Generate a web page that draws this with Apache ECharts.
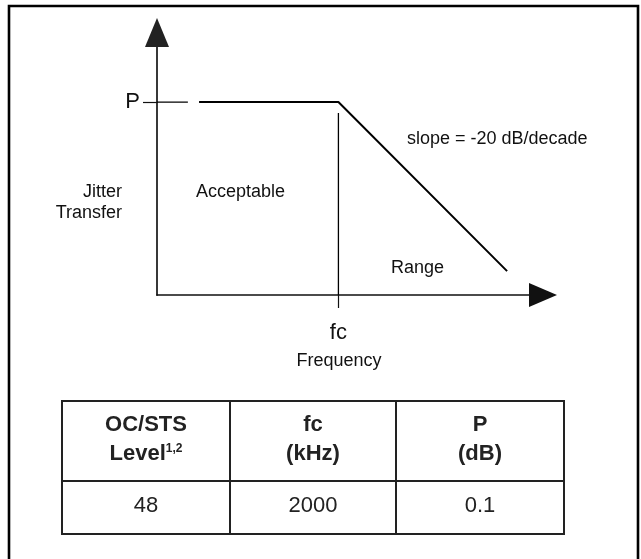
<!DOCTYPE html>
<html><head><meta charset="utf-8">
<script src="https://cdn.jsdelivr.net/npm/echarts@6/dist/echarts.min.js"></script>
<style>html,body{margin:0;padding:0;background:#fff}#c{width:641px;height:559px}</style>
</head><body><div id="c"></div>
<script>
// ---- data (arbitrary linear units 0..100) ----
const curveX = [10.9, 47.0, 90.7];        // start of plateau, corner fc, end of -20 dB/decade slope
const curveY = [73.5, 73.5, 9.1];         // P plateau, P, end of slope
const fcValue = 47.0;                     // corner frequency position
const pValue = 73.5;                      // P level
const fcLineTop = 69.3;                   // top of the vertical fc marker
const pTickEnd = 8.0;                     // right end of the P marker stub
const xTickLabels = ['fc'];
const yTickLabels = ['P'];
const tableHead1 = ['OC/STS', 'fc', 'P'];
const tableHead2 = ['Level{sup|1,2}', '(kHz)', '(dB)'];
const tableRow = ['48', '2000', '0.1'];

const FONT = '"Liberation Sans", Arial, sans-serif';
const chart = echarts.init(document.getElementById('c'), null, {renderer: 'canvas'});

// table geometry
const colX = [62, 230, 396, 564];
const rowY = [401, 481, 534];
const graphics = [];
graphics.push({type: 'rect', shape: {x: 9, y: 6, width: 629, height: 620},
  style: {fill: 'none', stroke: '#000', lineWidth: 2.6}, silent: true});
// table lines
for (const x of colX) graphics.push({type: 'line', shape: {x1: x, y1: rowY[0], x2: x, y2: rowY[2]}, style: {stroke: '#222', lineWidth: 2}});
for (const y of rowY) graphics.push({type: 'line', shape: {x1: colX[0] - 1, y1: y, x2: colX[3] + 1, y2: y}, style: {stroke: '#222', lineWidth: 2}});
for (let i = 0; i < 3; i++) {
  const cx = (colX[i] + colX[i + 1]) / 2;
  graphics.push({type: 'text', x: cx, y: 425, style: {text: tableHead1[i], font: 'bold 22px ' + FONT, fill: '#222', align: 'center', verticalAlign: 'middle'}});
  graphics.push({type: 'text', x: cx, y: 454, style: {text: tableHead2[i], font: 'bold 22px ' + FONT, fill: '#222', align: 'center', verticalAlign: 'middle',
    rich: {sup: {fontSize: 12, fontWeight: 'bold', fontFamily: FONT, fill: '#222', verticalAlign: 'top', padding: [0, 0, 10, 0]}}}});
  graphics.push({type: 'text', x: cx, y: 506, style: {text: tableRow[i], font: '22px ' + FONT, fill: '#222', align: 'center', verticalAlign: 'middle'}});
}
// annotations
const ann = [
  {t: 'slope = -20 dB/decade', x: 407, y: 139, a: 'left'},
  {t: 'Acceptable', x: 196, y: 192, a: 'left'},
  {t: 'Jitter', x: 122, y: 192, a: 'right'},
  {t: 'Transfer', x: 122, y: 213, a: 'right'},
  {t: 'Range', x: 391, y: 268, a: 'left'},
  {t: 'Frequency', x: 339, y: 361, a: 'center'}
];
for (const a of ann) graphics.push({type: 'text', x: a.x, y: a.y, style: {text: a.t, font: '18px ' + FONT, fill: '#111', align: a.a, verticalAlign: 'middle'}});

chart.setOption({
  animation: false,
  backgroundColor: '#fff',
  grid: {left: 157, right: 98, top: 32.5, bottom: 264, outerBoundsMode: 'none', containLabel: false},
  xAxis: {
    type: 'value', min: 0, max: 100,
    axisLine: {show: true, onZero: false, lineStyle: {color: '#111', width: 1.6}, symbol: ['none', 'triangle'], symbolSize: [24, 28]},
    axisTick: {show: true, customValues: [fcValue], length: 13, lineStyle: {color: '#111', width: 1.2}},
    axisLabel: {show: true, customValues: [fcValue], formatter: () => xTickLabels[0], fontSize: 22, fontFamily: FONT, color: '#111', margin: 27},
    splitLine: {show: false}
  },
  yAxis: {
    type: 'value', min: 0, max: 100,
    axisLine: {show: true, onZero: false, lineStyle: {color: '#222', width: 1.8}, symbol: ['none', 'triangle'], symbolSize: [24, 29]},
    axisTick: {show: true, customValues: [pValue], length: 14, lineStyle: {color: '#111', width: 1.2}},
    axisLabel: {show: true, customValues: [pValue], formatter: () => yTickLabels[0], fontSize: 22, fontFamily: FONT, color: '#111', margin: 17},
    splitLine: {show: false}
  },
  series: [
    {type: 'line', data: curveX.map((x, i) => [x, curveY[i]]), symbol: 'none', silent: true,
      lineStyle: {color: '#000', width: 2}},
    {type: 'line', data: [[fcValue, fcLineTop], [fcValue, 0]], symbol: 'none', silent: true,
      lineStyle: {color: '#000', width: 1.3}},
    {type: 'line', data: [[0, pValue], [pTickEnd, pValue]], symbol: 'none', silent: true,
      lineStyle: {color: '#000', width: 1.2}}
  ],
  graphic: graphics
});
</script>
</body></html>
